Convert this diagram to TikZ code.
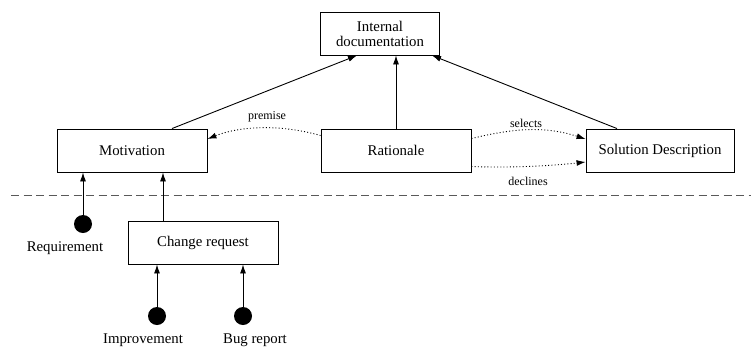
\documentclass[tikz,border=0pt]{standalone}
\usepackage{fontspec}
\setmainfont{Liberation Serif}
\usetikzlibrary{arrows.meta}
\begin{document}
\begin{tikzpicture}[x=1pt,y=-1pt,
  box/.style={draw,line width=0.9pt,rectangle,minimum height=43pt,inner sep=2pt,
    font=\fontsize{14.8}{16}\selectfont,align=center},
  lbl/.style={font=\fontsize{14.8}{16}\selectfont,inner sep=0pt},
  elbl/.style={font=\fontsize{12}{13}\selectfont,inner sep=0pt},
  dot/.style={circle,fill=black,minimum size=18pt,inner sep=0pt},
  arr/.style={line width=0.9pt,-{Latex[length=9pt,width=6pt]}},
  darr/.style={line width=0.9pt,dash pattern=on 1pt off 2.2pt,-{Latex[length=9pt,width=6pt]}}]
\useasboundingbox (0,0) rectangle (751,351);

% documentation nodes
\node[box,minimum width=119pt,minimum height=43pt] (idoc) at (380,33.5) {Internal\\[-1pt]documentation};
\node[box,minimum width=150pt] (mot) at (132,150.5) {Motivation};
\node[box,minimum width=150pt] (rat) at (396,150.5) {Rationale};
\node[box,minimum width=148pt] (sol) at (660,150.5) {Solution Description};
\node[box,minimum width=150pt] (chg) at (203,242.5) {Change request};

% separator
\draw[gray!70!black,line width=0.9pt,dash pattern=on 8pt off 4.5pt] (11,195) -- (751,195);

% sources
\node[dot] (req) at (83,224) {};
\node[dot] (imp) at (157,316) {};
\node[dot] (bug) at (243,316) {};
\node[lbl] (reqlbl) at (65,248) {Requirement};
\node[lbl] (implbl) at (143,340) {Improvement};
\node[lbl] (buglbl) at (255,340) {Bug report};

% solid arrows
\draw[arr] (req.north) -- (req.north |- mot.south);
\draw[arr] (chg.north -| 163,0) -- (mot.south -| 163,0);
\draw[arr] (imp.north) -- (imp.north |- chg.south);
\draw[arr] (bug.north) -- (bug.north |- chg.south);
\draw[arr] ([xshift=40pt]mot.north) -- ([xshift=-23pt]idoc.south);
\draw[arr] (rat.north) -- (rat.north |- idoc.south);
\draw[arr] ([xshift=-43pt]sol.north) -- ([xshift=52pt]idoc.south);

% dotted relations (yshift is upward on the canvas)
\draw[darr] ([yshift=15pt]rat.west) .. controls (280,124) and (240,126) .. ([yshift=11.5pt]mot.east);
\node[elbl] (premise) at (267,117) {premise};
\draw[darr] ([yshift=12pt]rat.east) .. controls (515,128) and (545,126) .. ([yshift=11.5pt]sol.west);
\node[elbl] (selects) at (526,123) {selects};
\draw[darr] ([yshift=-16pt]rat.east) .. controls (510,168) and (550,166) .. ([yshift=-11.5pt]sol.west);
\node[elbl] (declines) at (528,181) {declines};
\end{tikzpicture}
\end{document}
